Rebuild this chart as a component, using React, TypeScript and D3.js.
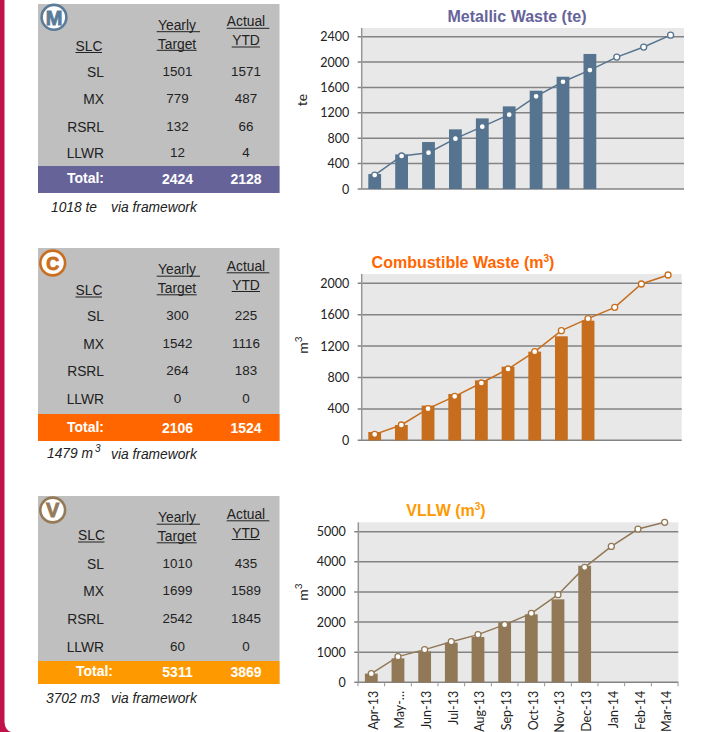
import React from "react";
import * as d3 from "d3";

const months = ["Apr-13","May-…","Jun-13","Jul-13","Aug-13","Sep-13","Oct-13","Nov-13","Dec-13","Jan-14","Feb-14","Mar-14"];
const slcNames = ["SL","MX","RSRL","LLWR"];

const metalBars = [236,545,740,940,1113,1302,1549,1769,2128];
const metalLine = [220,520,572,793,982,1171,1460,1690,1874,2079,2237,2424];
const metalTicks = [0,400,800,1200,1600,2000,2400];
const metalTarget = ["1501","779","132","12"];
const metalActual = ["1571","487","66","4"];

const combBars = [106,195,442,590,764,938,1129,1325,1524];
const combLine = [76,195,403,560,730,908,1129,1397,1550,1694,1991,2106];
const combTicks = [0,400,800,1200,1600,2000];
const combTarget = ["300","1542","264","0"];
const combActual = ["225","1116","183","0"];

const vllwBars = [288,796,1028,1316,1504,1990,2256,2754,3869];
const vllwLine = [288,852,1084,1349,1582,1914,2290,2909,3816,4512,5088,5311];
const vllwTicks = [0,1000,2000,3000,4000,5000];
const vllwTarget = ["1010","1699","2542","60"];
const vllwActual = ["435","1589","1845","0"];

const SANS = "'Liberation Sans', Arial, sans-serif";
const CHART = "Lato, 'Open Sans', sans-serif";

function Table(p: any) {
  const { top, bottom, totalTop, color, letter, iconColor, iconX, iconY, target, actual, totals, rows, hdr, totalX, totalY, foot, footY, footX, sup, slcX } = p;
  const tc = "#222";
  const txt = { fontFamily: SANS, fontSize: 13.8, fill: tc } as const;
  const ul = (x1: number, x2: number, y: number) => <line x1={x1} x2={x2} y1={y} y2={y} stroke="#222" strokeWidth={1} />;
  return (
    <g>
      <rect x={38} y={top} width={241.5} height={bottom - top} fill="#bfbfbf" />
      <rect x={38} y={totalTop} width={241.5} height={bottom - totalTop} fill={color} />
      <circle cx={iconX} cy={iconY} r={12.4} fill="#fff" stroke={iconColor} strokeWidth={2.6} />
      <text x={iconX} y={iconY + (letter === "C" ? 6.5 : 7.2)} textAnchor="middle" fontFamily={SANS} fontWeight={700} fontSize={letter === "C" ? 18 : 20} fill={iconColor} stroke={iconColor} strokeWidth={0.9}>{letter}</text>
      <text x={slcX} y={hdr.slc} textAnchor="middle" {...txt}>SLC</text>
      {ul(slcX - 13.5, slcX + 13, hdr.slc + 2)}
      <text x={177} y={hdr.y1} textAnchor="middle" {...txt}>Yearly</text>
      {ul(156.7, 200, hdr.y1 + 2.2)}
      <text x={177} y={hdr.y1 + 19} textAnchor="middle" {...txt}>Target</text>
      {ul(156.7, 196.7, hdr.y1 + 20.8)}
      <text x={246} y={hdr.y1 - 3.5} textAnchor="middle" {...txt}>Actual</text>
      {ul(226.7, 269.3, hdr.y1 - 1.2)}
      <text x={246} y={hdr.y1 + 15.5} textAnchor="middle" {...txt}>YTD</text>
      {ul(231.7, 260, hdr.y1 + 17.5)}
      {slcNames.map((n, i) => (
        <g key={n}>
          <text x={104} y={rows[i]} textAnchor="end" {...txt}>{n}</text>
          <text x={177.5} y={rows[i] - 1} textAnchor="middle" {...txt} fontSize={13.4}>{target[i]}</text>
          <text x={246} y={rows[i] - 1} textAnchor="middle" {...txt} fontSize={13.4}>{actual[i]}</text>
        </g>
      ))}
      <g fontFamily={SANS} fontSize={14} fontWeight={700} fill="#fff">
        <text x={totalX} y={totalY} textAnchor="end">Total:</text>
        <text x={177.5} y={totalY + 1} textAnchor="middle">{totals[0]}</text>
        <text x={246} y={totalY + 1} textAnchor="middle">{totals[1]}</text>
      </g>
      <g fontFamily={SANS} fontSize={13.8} fontStyle="italic" fill="#222">
        <text x={footX} y={footY}>{foot}{sup ? <tspan dx={2} dy={-6} fontSize={10}>3</tspan> : null}</text>
        <text x={111} y={footY + (sup ? 1 : 0)}>via framework</text>
      </g>
    </g>
  );
}

function Chart(p: any) {
  const { x0, x1, yTop, y0, yMaxPos, yMaxVal, firstX, step, bars, line, ticks, barColor, lineColor, title, titleX, titleY, titleColor, sup, yLabel, yLabelX, yLabelY, showX } = p;
  const y = d3.scaleLinear().domain([0, yMaxVal]).range([y0, yMaxPos]);
  const x = d3.scaleBand<string>().domain(months).range([firstX - step / 2, firstX - step / 2 + step * 12]);
  const cx = (i: number) => (x(months[i]) as number) + x.bandwidth() / 2;
  const path = d3.line<number>().x((_, i) => cx(i)).y(d => y(d))(line) as string;
  const bw = 12.8;
  return (
    <g>
      <rect x={x0} y={yTop} width={x1 - x0} height={y0 - yTop} fill="#e8e8e8" />
      {ticks.map((t: number) => (
        <g key={t}>
          <line x1={x0 - 4} x2={x1} y1={y(t)} y2={y(t)} stroke="#838383" strokeWidth={1.5} />
          <text x={x0 - 12.5} y={y(t) + 4.5} textAnchor="end" fontFamily={CHART} fontSize={12.5} fill="#222">{t}</text>
        </g>
      ))}
      <line x1={x0} x2={x0} y1={yTop} y2={y0} stroke="#969696" strokeWidth={1.5} />
      {bars.map((b: number, i: number) => (
        <rect key={i} x={cx(i) - bw / 2} y={y(b)} width={bw} height={y0 - y(b)} fill={barColor} />
      ))}
      <path d={path} fill="none" stroke={lineColor} strokeWidth={1.5} />
      {line.map((v: number, i: number) => (
        <circle key={i} cx={cx(i)} cy={y(v)} r={3} fill="#fff" stroke={lineColor} strokeWidth={1.3} />
      ))}
      <text x={titleX} y={titleY} textAnchor="middle" fontFamily={SANS} fontWeight={700} fontSize={16} fill={titleColor}>
        {title}{sup ? <><tspan dy={-6} fontSize={10}>3</tspan><tspan dy={6}>)</tspan></> : null}
      </text>
      <text transform={`translate(${yLabelX},${yLabelY}) rotate(-90)`} textAnchor="middle" fontFamily={CHART} fontSize={14} fill="#222">
        {yLabel === "m3" ? <>m<tspan dy={-6} fontSize={10}>3</tspan></> : yLabel}
      </text>
      {showX ? (
        <g>
          {d3.range(13).map(i => {
            const xp = firstX - step / 2 + step * i;
            return <line key={i} x1={xp} x2={xp} y1={y0} y2={y0 + 4} stroke="#969696" strokeWidth={1} />;
          })}
          {months.map((m, i) => (
            <text key={m} transform={`translate(${cx(i) + 6.5},${y0 + 8.5}) rotate(-90)`} textAnchor="end" fontFamily={CHART} fontSize={12.5} fill="#222">{m}</text>
          ))}
        </g>
      ) : null}
    </g>
  );
}

export default function App() {
  return (
    <svg width={710} height={732} style={{ position: "absolute", left: 0, top: 0, background: "#fff" }}>
      <path d="M0 0H4.5V722Q5 730 11 732H0Z" fill="#c2124a" />

      <Table top={4} bottom={193} totalTop={166} color="#666399" letter="M" iconColor="#5b7b98" iconX={54} iconY={17.3} slcX={89}
        target={metalTarget} actual={metalActual} totals={["2424","2128"]} rows={[77,104,132,158]}
        hdr={{ slc: 50.5, y1: 29.5 }} totalX={104} totalY={183} foot="1018 te" footX={51} footY={212} />
      <Table top={248} bottom={441} totalTop={414} color="#ff6600" letter="C" iconColor="#c96f1f" iconX={52.7} iconY={263} slcX={89}
        target={combTarget} actual={combActual} totals={["2106","1524"]} rows={[321,349,376,404]}
        hdr={{ slc: 295, y1: 274 }} totalX={104} totalY={432} foot="1479 m" footX={47} footY={458} sup />
      <Table top={496} bottom={684} totalTop={661} color="#ff9900" letter="V" iconColor="#957a57" iconX={52.7} iconY={510} slcX={91.5}
        target={vllwTarget} actual={vllwActual} totals={["5311","3869"]} rows={[569,596,624,652]}
        hdr={{ slc: 540, y1: 522 }} totalX={113} totalY={676} foot="3702 m3" footX={46} footY={703} />

      <Chart x0={361.7} x1={684} yTop={28} y0={189} yMaxPos={36.7} yMaxVal={2400} firstX={374.7} step={26.9}
        bars={metalBars} line={metalLine} ticks={metalTicks} barColor="#56748f" lineColor="#56748f"
        title="Metallic Waste (te)" titleX={517} titleY={22} titleColor="#66639a" yLabel="te" yLabelX={307} yLabelY={100} />
      <Chart x0={361.7} x1={681.7} yTop={274} y0={440.3} yMaxPos={283.3} yMaxVal={2000} firstX={374.7} step={26.67}
        bars={combBars} line={combLine} ticks={combTicks} barColor="#c76e1e" lineColor="#c76e1e"
        title="Combustible Waste (m" titleX={463} titleY={268} titleColor="#ff6600" sup yLabel="m3" yLabelX={308} yLabelY={345} />
      <Chart x0={358.3} x1={678.3} yTop={522.3} y0={682.3} yMaxPos={531.7} yMaxVal={5000} firstX={371.3} step={26.67}
        bars={vllwBars} line={vllwLine} ticks={vllwTicks} barColor="#917957" lineColor="#917957"
        title="VLLW (m" titleX={446} titleY={516} titleColor="#ff9900" sup yLabel="m3" yLabelX={308} yLabelY={592} showX />
    </svg>
  );
}
